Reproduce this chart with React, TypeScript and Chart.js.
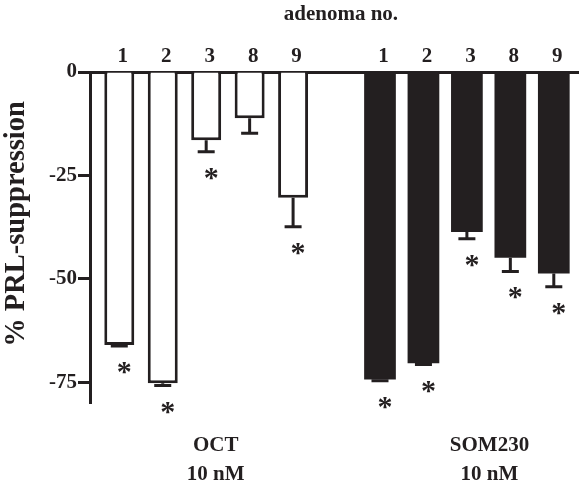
import { useEffect, useRef } from 'react';
import { Chart, registerables } from 'chart.js';

Chart.register(...registerables);

// Adenoma numbers shown above each bar
const adenomaNos = ['1', '2', '3', '8', '9'];

// % PRL suppression (mean) and SEM per adenoma
const octSuppression = [-66.0, -75.2, -16.5, -11.2, -30.4];
const octSem = [0.2, 0.6, 2.8, 3.6, 7.0];
const octSignificant = [true, true, true, false, true];

const somSuppression = [-74.3, -70.4, -38.7, -44.9, -48.7];
const somSem = [0.3, 0.3, 1.6, 3.3, 3.2];
const somSignificant = [true, true, true, true, true];

const yTicks = [0, -25, -50, -75];
const treatments = [
  ['OCT', '10 nM'],
  ['SOM230', '10 nM'],
];

const INK = '#231f20';
const SERIF = '"Liberation Serif", "Times New Roman", Times, serif';
const SOM_START = 6; // SOM230 bars follow one empty slot after OCT

const annotate = {
  id: 'annotate',
  afterDatasetsDraw(chart: any) {
    const { ctx, chartArea } = chart;
    const xs = chart.scales.x;
    const ys = chart.scales.y;
    ctx.save();
    ctx.strokeStyle = INK;
    ctx.fillStyle = INK;
    ctx.lineWidth = 3;

    // error bars (one-sided, away from zero) and significance stars
    chart.data.datasets.forEach((ds: any, di: number) => {
      const meta = chart.getDatasetMeta(di);
      meta.data.forEach((bar: any, i: number) => {
        const v = ds.data[i].y;
        const yEnd = ys.getPixelForValue(v - ds.sem[i]);
        ctx.beginPath();
        ctx.moveTo(bar.x, bar.y);
        ctx.lineTo(bar.x, yEnd);
        ctx.moveTo(bar.x - 8.5, yEnd);
        ctx.lineTo(bar.x + 8.5, yEnd);
        ctx.stroke();
        if (ds.significant[i]) {
          ctx.font = `bold 30px ${SERIF}`;
          ctx.textAlign = 'center';
          ctx.textBaseline = 'alphabetic';
          ctx.fillText('*', bar.x + 5, yEnd + 21 + 14);
        }
      });
    });

    // axis heading above the adenoma numbers
    ctx.font = `bold 21px ${SERIF}`;
    ctx.textAlign = 'center';
    ctx.textBaseline = 'alphabetic';
    ctx.fillText('adenoma no.', xs.getPixelForValue(5.1), 20);

    // treatment labels under each group
    const groupAt = [2.22, 8.52];
    treatments.forEach((lines, g) => {
      const cx = xs.getPixelForValue(groupAt[g]);
      ctx.fillText(lines[0], cx, chartArea.bottom + 48);
      ctx.fillText(lines[1], cx, chartArea.bottom + 77);
    });

    // y-axis title
    ctx.translate(24, 224);
    ctx.rotate(-Math.PI / 2);
    ctx.font = `bold 28.5px ${SERIF}`;
    ctx.fillText('% PRL-suppression', 0, 0);
    ctx.restore();
  },
};

export default function App() {
  const canvasRef = useRef<HTMLCanvasElement | null>(null);

  useEffect(() => {
    const canvas = canvasRef.current;
    if (!canvas) return;
    const chart = new Chart(canvas, {
      type: 'bar',
      data: {
        datasets: [
          {
            label: 'OCT 10 nM',
            data: octSuppression.map((y, i) => ({ x: i, y })),
            sem: octSem,
            significant: octSignificant,
            backgroundColor: '#ffffff',
            borderColor: INK,
            borderWidth: 3,
            categoryPercentage: 1,
            barPercentage: 0.69,
            grouped: false,
          } as any,
          {
            label: 'SOM230 10 nM',
            data: somSuppression.map((y, i) => ({ x: SOM_START + i, y })),
            sem: somSem,
            significant: somSignificant,
            backgroundColor: INK,
            borderColor: INK,
            borderWidth: 0,
            categoryPercentage: 1,
            barPercentage: 0.73,
            grouped: false,
          } as any,
        ],
      },
      options: {
        responsive: false,
        animation: false,
        events: [],
        layout: { padding: { left: 0, right: 0, top: 0, bottom: 82 } },
        plugins: {
          legend: { display: false },
          tooltip: { enabled: false },
        },
        scales: {
          x: {
            type: 'linear',
            position: 'top',
            offset: false,
            min: -0.674,
            max: 10.58,
            z: 1,
            grid: { display: false, drawTicks: false },
            border: { display: true, color: INK, width: 3 },
            afterFit: (scale: any) => {
              scale.height = 72;
            },
            afterBuildTicks: (scale: any) => {
              const idx = [0, 1, 2, 3, 4].flatMap((i) => [i, SOM_START + i]).sort((a, b) => a - b);
              scale.ticks = idx.map((value) => ({ value }));
            },
            ticks: {
              autoSkip: false,
              maxRotation: 0,
              padding: 3,
              labelOffset: 3.5,
              color: INK,
              font: { family: SERIF, size: 21, weight: 'bold' },
              callback: (value: any) => {
                const v = Number(value);
                return v >= SOM_START ? adenomaNos[v - SOM_START] : adenomaNos[v];
              },
            },
          },
          y: {
            type: 'linear',
            min: -80,
            max: 0,
            grid: {
              display: true,
              drawOnChartArea: false,
              drawTicks: true,
              tickLength: 12,
              tickWidth: 3,
              tickColor: INK,
            },
            border: { display: true, color: INK, width: 3 },
            afterFit: (scale: any) => {
              scale.width = 90;
            },
            afterBuildTicks: (scale: any) => {
              scale.ticks = yTicks.map((value) => ({ value }));
            },
            ticks: {
              padding: 1,
              color: INK,
              font: { family: SERIF, size: 21, weight: 'bold' },
              callback: (value: any) => String(value),
            },
          },
        },
      } as any,
      plugins: [annotate],
    });
    return () => chart.destroy();
  }, []);

  return (
    <div style={{ position: 'fixed', left: 0, top: 0, width: 579, height: 485, background: '#fff' }}>
      <canvas ref={canvasRef} width={579} height={485} />
    </div>
  );
}
